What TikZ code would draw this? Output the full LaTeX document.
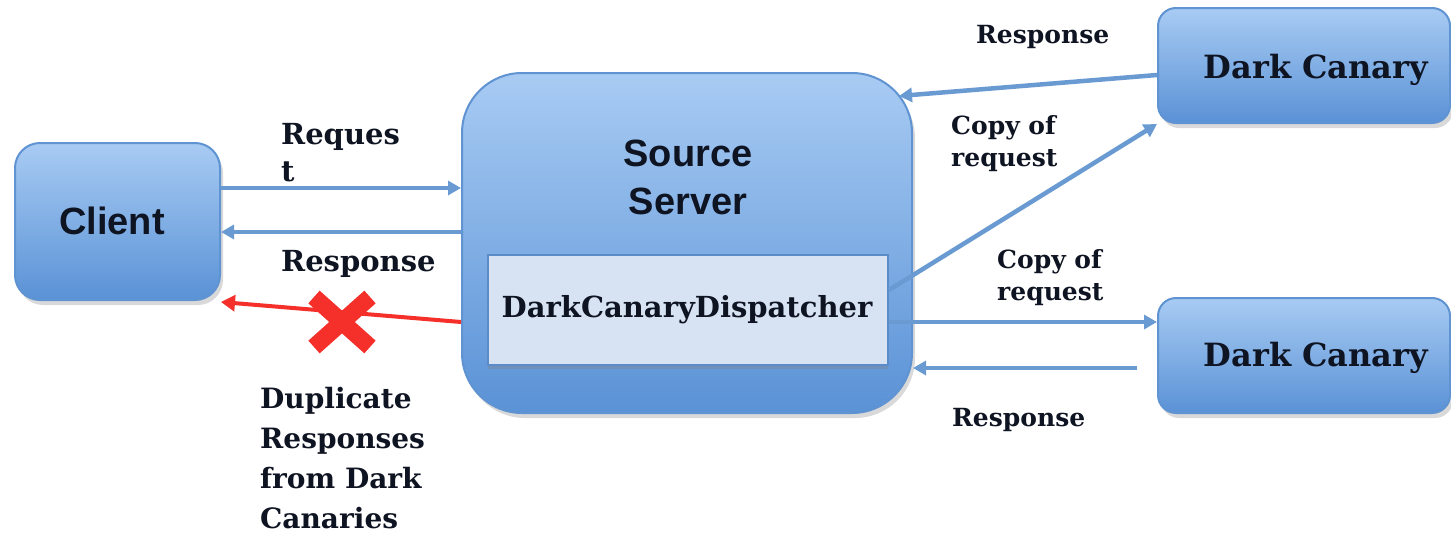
\documentclass[tikz,border=0pt]{standalone}
\usepackage{fontspec}
\setmainfont{DejaVu Serif}
\newfontfamily\sansb{Liberation Sans}
\usetikzlibrary{arrows.meta,shadows,calc}
\definecolor{boxtop}{HTML}{A8CBF3}
\definecolor{boxbot}{HTML}{5A92D6}
\definecolor{boxedge}{HTML}{5F93D2}
\definecolor{dispfill}{HTML}{D7E3F3}
\definecolor{dispedge}{HTML}{5B8CC8}
\definecolor{arrblue}{HTML}{6A9AD2}
\definecolor{xred}{HTML}{F5302B}
\definecolor{txt}{HTML}{0F1422}
\tikzset{
  bluebox/.style={draw=boxedge, line width=2pt, top color=boxtop, bottom color=boxbot,
    inner sep=0pt, drop shadow={shadow xshift=3pt, shadow yshift=-5pt, opacity=.3}},
  arr/.style={draw=arrblue, line width=4.5pt, -{Triangle[width=14pt,length=13pt]}},
  redarr/.style={draw=xred, line width=4pt, -{Triangle[width=16pt,length=14pt]}},
  lbl/.style={font=\bfseries\fontsize{29}{37}\selectfont, text=txt, inner sep=0pt, anchor=west, align=left},
  lbls/.style={font=\bfseries\fontsize{25}{32}\selectfont, text=txt, inner sep=0pt, anchor=west, align=left},
  sanslbl/.style={font=\sansb\bfseries\fontsize{38}{48}\selectfont, text=txt, inner sep=0pt, align=center},
}
\begin{document}
\begin{tikzpicture}[x=1pt,y=-1pt]
\useasboundingbox (0,0) rectangle (1451,533);
% boxes
\node[bluebox, rounded corners=25pt, minimum width=205pt, minimum height=157pt] (client) at (117.5,221.5) {};
\node[bluebox, rounded corners=60pt, minimum width=450pt, minimum height=340pt] (server) at (687,243) {};
\node[draw=dispedge, line width=2pt, fill=dispfill, minimum width=400pt, minimum height=110pt, inner sep=0pt,
      drop shadow={shadow xshift=0pt, shadow yshift=-4pt, opacity=.35}] (disp) at (688,310) {};
\node[bluebox, rounded corners=18pt, minimum width=292pt, minimum height=115pt] (dc1) at (1304,65.5) {};
\node[bluebox, rounded corners=18pt, minimum width=292pt, minimum height=115pt] (dc2) at (1304,355.5) {};
% box texts
\node[sanslbl] (clientt) at (112,221) {Client};
\node[sanslbl] (servert) at (688,177) {Source\\Server};
\node[font=\bfseries\fontsize{29}{36}\selectfont, text=txt, inner sep=0pt] (dispt) at (687,310) {DarkCanaryDispatcher};
\node[font=\bfseries\fontsize{32}{40}\selectfont, text=txt, inner sep=0pt] (dc1t) at (1316,70) {Dark Canary};
\node[font=\bfseries\fontsize{32}{40}\selectfont, text=txt, inner sep=0pt] (dc2t) at (1316,358) {Dark Canary};
% connectors
\draw[arr] (client.east |- 0,188) -- (server.west |- 0,188);
\draw[arr] (server.west |- 0,232) -- (client.east |- 0,232);
\coordinate (srvcorner) at (899,96);
\draw[arr] (dc1.west |- 0,75) -- (srvcorner);
\draw[arr] (disp.east |- 0,290) -- (dc1.south west);
\draw[arr] (disp.east |- 0,322) -- (dc2.west |- 0,322);
\coordinate (dc2resp) at ($(dc2.west |- 0,368)+(-20,0)$);
\draw[arr] (dc2resp) -- (server.east |- 0,368);
\draw[redarr] (server.west |- 0,322) -- (client.east |- 0,302);
% red X
\coordinate (xc) at (342,322);
\draw[xred, line width=17pt] ($(xc)+(-28,-25)$) -- ($(xc)+(28,25)$);
\draw[xred, line width=17pt] ($(xc)+(28,-25)$) -- ($(xc)+(-28,25)$);
% labels
\node[lbl] (lreq) at (281,153) {Reques\\t};
\node[lbl] (lresp) at (281,264) {Response};
\node[lbl, font=\bfseries\fontsize{28}{40}\selectfont] (ldup) at (260,458) {Duplicate\\Responses\\from Dark\\Canaries};
\node[lbls] (lresp1) at (976,37) {Response};
\node[lbls] (lcopy1) at (951,144) {Copy of\\request};
\node[lbls] (lcopy2) at (997,278) {Copy of\\request};
\node[lbls] (lresp2) at (952,420) {Response};
\end{tikzpicture}
\end{document}
